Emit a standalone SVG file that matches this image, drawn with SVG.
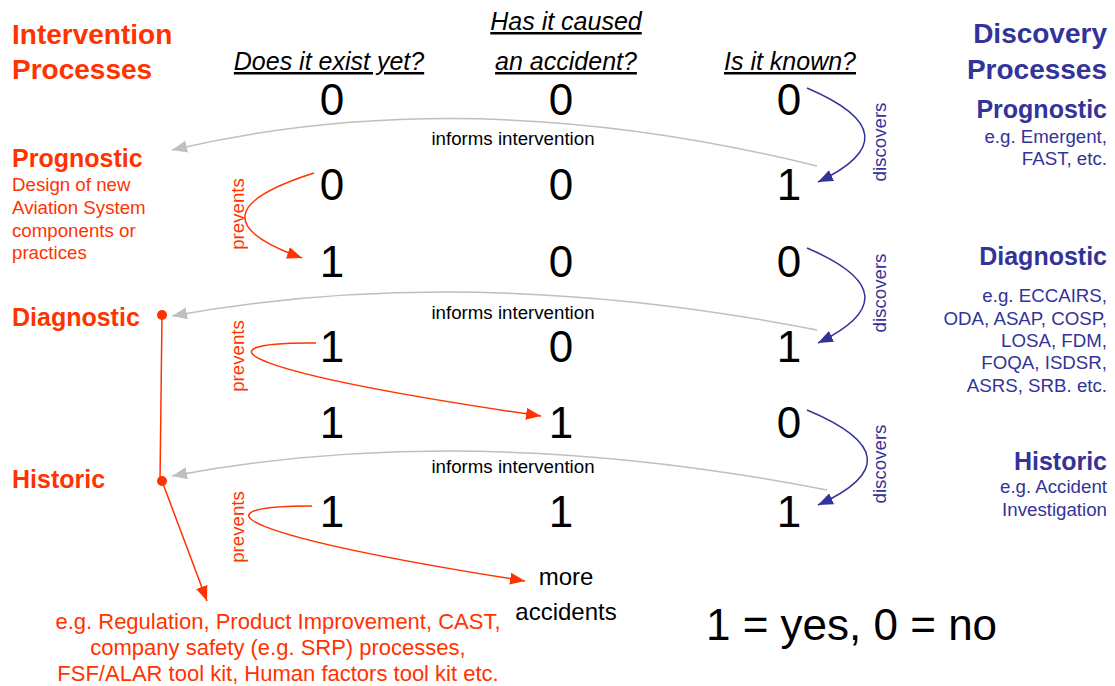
<svg xmlns="http://www.w3.org/2000/svg" width="1115" height="686" viewBox="0 0 1115 686">
<style>
text{font-family:"Liberation Sans",Arial,sans-serif}
.red{fill:#FF3300}
.blue{fill:#333399}
.h1{font-size:28px;font-weight:bold}
.h2{font-size:25px;font-weight:bold}
.sm{font-size:18.7px}
.q{font-size:25px;font-style:italic;text-decoration:underline;text-anchor:middle;fill:#000}
.d{font-size:44px;text-anchor:middle;fill:#000}
.lbl{font-size:18.7px;text-anchor:middle}
.gray{fill:none;stroke:#BFBFBF;stroke-width:1.5}
.bl{fill:none;stroke:#333399;stroke-width:1.5}
.rd{fill:none;stroke:#FF3300;stroke-width:1.5}
</style>
<defs>
<marker id="ag" markerWidth="16" markerHeight="12" refX="15" refY="6" orient="auto" markerUnits="userSpaceOnUse"><path d="M0,0 L15,6 L0,12 z" fill="#BFBFBF"/></marker>
<marker id="ab" markerWidth="16" markerHeight="12" refX="15" refY="6" orient="auto" markerUnits="userSpaceOnUse"><path d="M0,0 L15,6 L0,12 z" fill="#333399"/></marker>
<marker id="ar" markerWidth="16" markerHeight="12" refX="15" refY="6" orient="auto" markerUnits="userSpaceOnUse"><path d="M0,0 L15,6 L0,12 z" fill="#FF3300"/></marker>
</defs>
<rect width="1115" height="686" fill="#fff"/>

<g id="intervention-title" class="red h1">
<text x="12" y="44">Intervention</text>
<text x="12" y="79">Processes</text>
</g>
<g id="discovery-title" class="blue h1" text-anchor="end">
<text x="1107" y="43">Discovery</text>
<text x="1107" y="79">Processes</text>
</g>

<g id="col-headers">
<text class="q" x="329" y="70">Does it exist yet?</text>
<text class="q" x="566" y="30">Has it caused</text>
<text class="q" x="566" y="70">an accident?</text>
<text class="q" x="790" y="70">Is it known?</text>
</g>

<g id="row1"><text class="d" x="332" y="115">0</text><text class="d" x="561" y="115">0</text><text class="d" x="789" y="115">0</text></g>
<g id="row2"><text class="d" x="332" y="200">0</text><text class="d" x="561" y="200">0</text><text class="d" x="789" y="200">1</text></g>
<g id="row3"><text class="d" x="332" y="277">1</text><text class="d" x="561" y="277">0</text><text class="d" x="789" y="277">0</text></g>
<g id="row4"><text class="d" x="332" y="362">1</text><text class="d" x="561" y="362">0</text><text class="d" x="789" y="362">1</text></g>
<g id="row5"><text class="d" x="332" y="438">1</text><text class="d" x="561" y="438">1</text><text class="d" x="789" y="438">0</text></g>
<g id="row6"><text class="d" x="332" y="527">1</text><text class="d" x="561" y="527">1</text><text class="d" x="789" y="527">1</text></g>

<g id="int-prognostic" class="red">
<text class="h2" x="12" y="167">Prognostic</text>
<text class="sm" x="12" y="191">Design of new</text>
<text class="sm" x="12" y="214">Aviation System</text>
<text class="sm" x="12" y="237">components or</text>
<text class="sm" x="12" y="259">practices</text>
</g>
<g id="int-diagnostic" class="red">
<text class="h2" x="12" y="326">Diagnostic</text>
<circle cx="162" cy="315" r="5" fill="#FF3300"/>
</g>
<g id="int-historic" class="red">
<text class="h2" x="12" y="488">Historic</text>
<circle cx="162" cy="481" r="5" fill="#FF3300"/>
</g>
<g id="int-examples" class="red sm" text-anchor="middle" style="font-size:22px">
<text x="278" y="629">e.g. Regulation, Product Improvement, CAST,</text>
<text x="278" y="655">company safety (e.g. SRP) processes,</text>
<text x="278" y="681">FSF/ALAR tool kit, Human factors tool kit etc.</text>
</g>

<g id="disc-prognostic" class="blue" text-anchor="end">
<text class="h2" x="1107" y="118">Prognostic</text>
<text class="sm" x="1107" y="143">e.g. Emergent,</text>
<text class="sm" x="1107" y="165">FAST, etc.</text>
</g>
<g id="disc-diagnostic" class="blue" text-anchor="end">
<text class="h2" x="1107" y="265">Diagnostic</text>
<text class="sm" x="1107" y="302">e.g. ECCAIRS,</text>
<text class="sm" x="1107" y="325">ODA, ASAP, COSP,</text>
<text class="sm" x="1107" y="347">LOSA, FDM,</text>
<text class="sm" x="1107" y="369">FOQA, ISDSR,</text>
<text class="sm" x="1107" y="392">ASRS, SRB. etc.</text>
</g>
<g id="disc-historic" class="blue" text-anchor="end">
<text class="h2" x="1107" y="470">Historic</text>
<text class="sm" x="1107" y="493">e.g. Accident</text>
<text class="sm" x="1107" y="516">Investigation</text>
</g>

<g id="more-accidents" style="font-size:24px" text-anchor="middle">
<text x="566" y="585">more</text>
<text x="566" y="620">accidents</text>
</g>
<g id="legend"><text x="706" y="640" style="font-size:44px">1 = yes, 0 = no</text></g>

<g id="connectors">
<path class="gray" d="M817,166 Q470,80 172,150" marker-end="url(#ag)"/>
<path class="gray" d="M817,330 Q470,262 172,316" marker-end="url(#ag)"/>
<path class="gray" d="M827,490 Q470,420 172,476" marker-end="url(#ag)"/>
<text class="lbl" x="513" y="145">informs intervention</text>
<text class="lbl" x="513" y="319">informs intervention</text>
<text class="lbl" x="513" y="473">informs intervention</text>

<path class="bl" d="M807,88 Q917,135 818,182" marker-end="url(#ab)"/>
<path class="bl" d="M807,248 Q917,295 818,343" marker-end="url(#ab)"/>
<path class="bl" d="M807,410 Q922,458 818,505" marker-end="url(#ab)"/>
<text class="lbl blue" transform="translate(886,142) rotate(-90)">discovers</text>
<text class="lbl blue" transform="translate(886,293) rotate(-90)">discovers</text>
<text class="lbl blue" transform="translate(886,464) rotate(-90)">discovers</text>

<path class="rd" d="M314,173 Q182,215 302,258" marker-end="url(#ar)"/>
<path class="rd" d="M316,343 C190,342 240,372 541,416" marker-end="url(#ar)"/>
<path class="rd" d="M312,506 C188,506 240,536 525,581" marker-end="url(#ar)"/>
<text class="lbl red" transform="translate(244,214) rotate(-90)">prevents</text>
<text class="lbl red" transform="translate(244,356) rotate(-90)">prevents</text>
<text class="lbl red" transform="translate(244,527) rotate(-90)">prevents</text>

<path class="rd" d="M162,315 L160,481"/>
<path class="rd" d="M162,481 L207,601" marker-end="url(#ar)"/>
</g>
</svg>
